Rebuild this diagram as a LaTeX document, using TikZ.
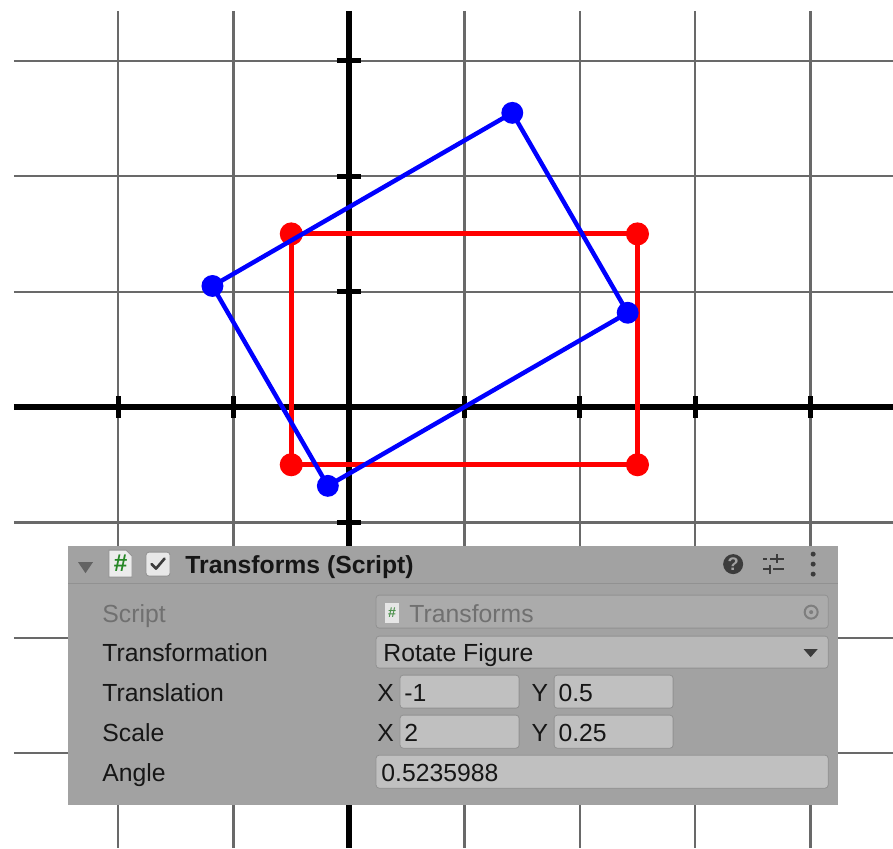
\documentclass[tikz,border=0pt]{standalone}
\usepackage{fontspec}
\setsansfont{Liberation Sans}
\usepackage{xcolor}
\usetikzlibrary{positioning}
\definecolor{gridgray}{RGB}{105,105,105}
\definecolor{ptred}{RGB}{255,0,0}
\definecolor{ptblue}{RGB}{0,0,255}
\definecolor{panelgray}{RGB}{162,162,162}
\definecolor{fieldgray}{RGB}{192,192,192}
\definecolor{dropgray}{RGB}{184,184,184}
\definecolor{lockgray}{RGB}{171,171,171}
\definecolor{edgegray}{RGB}{145,145,145}
\definecolor{textdark}{RGB}{22,22,22}
\definecolor{textdim}{RGB}{112,112,112}
\definecolor{icondark}{RGB}{60,60,60}
\definecolor{hashgreen}{RGB}{38,135,38}

\begin{document}
\begin{tikzpicture}[
  x=2cm, y=2cm,
  gridline/.style={draw=gridgray, line width=1.1pt},
  axisline/.style={draw=black, line width=2.6pt},
  axtick/.style={draw=black, line width=2.6pt},
  redshape/.style={draw=ptred, line width=2.4pt, line join=round},
  blueshape/.style={draw=ptblue, line width=2.2pt, line join=round},
  field/.style={draw=edgegray, line width=0.4pt, rounded corners=1.5pt},
  lbl/.style={anchor=base west, inner sep=0pt, text=textdark,
    font=\sffamily\fontsize{12.2}{14}\selectfont}
]
\useasboundingbox (-3.024,-3.822) rectangle (4.714,3.527);

% grid and axes
\foreach \gx in {-2,-1,1,2,3,4}
  \draw[gridline] (\gx,3.432) -- (\gx,-3.822);
\foreach \gy in {-3,-2,-1,1,2,3}
  \draw[gridline] (-2.903,\gy) -- (4.714,\gy);
\draw[axisline] (0,3.432) -- (0,-3.822);
\draw[axisline] (-2.903,0) -- (4.714,0);
\foreach \gx in {-2,-1,1,2,3,4}
  \draw[axtick] (\gx,-0.095) -- (\gx,0.095);
\foreach \gy in {-3,-2,-1,1,2,3}
  \draw[axtick] (-0.104,\gy) -- (0.104,\gy);

% original figure
\coordinate (r1) at (-0.5,-0.5);
\coordinate (r2) at (2.5,-0.5);
\coordinate (r3) at (2.5,1.5);
\coordinate (r4) at (-0.5,1.5);
\draw[redshape] (r1) -- (r2) -- (r3) -- (r4) -- cycle;
\foreach \p in {r1,r2,r3,r4}
  \fill[ptred] (\p) circle (0.1);

% rotated figure (0.5235988 rad)
\begin{scope}[rotate=30]
  \coordinate (b1) at (-0.5,-0.5);
  \coordinate (b2) at (2.5,-0.5);
  \coordinate (b3) at (2.5,1.5);
  \coordinate (b4) at (-0.5,1.5);
\end{scope}
\draw[blueshape] (b1) -- (b2) -- (b3) -- (b4) -- cycle;
\foreach \p in {b1,b2,b3,b4}
  \fill[ptblue] (\p) circle (0.095);

% inspector panel, in pixels from the top left corner
\begin{scope}[shift={(-3.024,3.527)}, x=0.017331cm, y=-0.017331cm]
  \fill[panelgray] (68,546) rectangle (838,805);
  \draw[edgegray, line width=0.6pt] (68,583) -- (838,583);

  % header
  \fill[icondark!80] (78,562) -- (93,562) -- (85.5,573) -- cycle;
  \draw[fill=white!80!panelgray, draw=edgegray, line width=0.4pt]
    (109,550) -- (126,550) -- (132,556) -- (132,577) -- (109,577) -- cycle;
  \node[font=\sffamily\bfseries\fontsize{12}{12}\selectfont, text=hashgreen,
    inner sep=0pt] (hashicon) at (120.5,563.5) {\#};
  \draw[field, fill=white!75!panelgray] (146,552) rectangle (170,576);
  \draw[icondark, line width=1.3pt, line cap=round, line join=round]
    (151.5,564) -- (156,568.5) -- (164.5,558.5);
  \node[lbl, font=\sffamily\bfseries\fontsize{12.2}{14}\selectfont]
    (title) at (185,573) {Transforms (Script)};
  \fill[icondark] (733,564) circle (10);
  \node[font=\sffamily\bfseries\fontsize{9}{9}\selectfont, text=panelgray,
    inner sep=0pt] (help) at (733,564) {?};
  \draw[icondark, line width=1.2pt]
    (763,559) -- (767,559) (770,559) -- (784,559)
    (763,569) -- (770,569) (773,569) -- (784,569)
    (777,554) -- (777,563) (770,565) -- (770,574);
  \foreach \ky in {554,564,574}
    \fill[icondark] (813,\ky) circle (2.5);

  % fields
  \draw[field, fill=lockgray] (376,595) rectangle (828,628);
  \draw[field, fill=dropgray] (376,636) rectangle (828,668);
  \draw[field, fill=fieldgray] (400,675) rectangle (519,708);
  \draw[field, fill=fieldgray] (554,675) rectangle (673,708);
  \draw[field, fill=fieldgray] (400,715) rectangle (519,748);
  \draw[field, fill=fieldgray] (554,715) rectangle (673,748);
  \draw[field, fill=fieldgray] (376,755) rectangle (828,788);

  \fill[white!70!lockgray] (385,603) rectangle (399,623);
  \node[font=\sffamily\bfseries\fontsize{7}{7}\selectfont, text=hashgreen!70!lockgray,
    inner sep=0pt] (hashsmall) at (392,613) {\#};
  \draw[textdim!90, line width=1pt] (811,612) circle (6.5);
  \fill[textdim!90] (811,612) circle (2);
  \fill[icondark] (803.5,649) -- (817.5,649) -- (810.5,657) -- cycle;

  % labels and values
  \node[lbl, text=textdim] (lscript) at (102,622) {Script};
  \node[lbl] (ltransf) at (102,661) {Transformation};
  \node[lbl] (ltransl) at (102,701) {Translation};
  \node[lbl] (lscale) at (102,741) {Scale};
  \node[lbl] (langle) at (102,781) {Angle};

  \node[lbl, text=textdim] (vscript) at (409,622) {Transforms};
  \node[lbl] (vtransf) at (383,661) {Rotate Figure};
  \node[lbl] (tlx) at (377,701) {X};
  \node[lbl] (tvx) at (404,701) {-1};
  \node[lbl] (tly) at (531,701) {Y};
  \node[lbl] (tvy) at (558,701) {0.5};
  \node[lbl] (slx) at (377,741) {X};
  \node[lbl] (svx) at (404,741) {2};
  \node[lbl] (sly) at (531,741) {Y};
  \node[lbl] (svy) at (558,741) {0.25};
  \node[lbl] (vangle) at (381,781) {0.5235988};
\end{scope}
\end{tikzpicture}
\end{document}
